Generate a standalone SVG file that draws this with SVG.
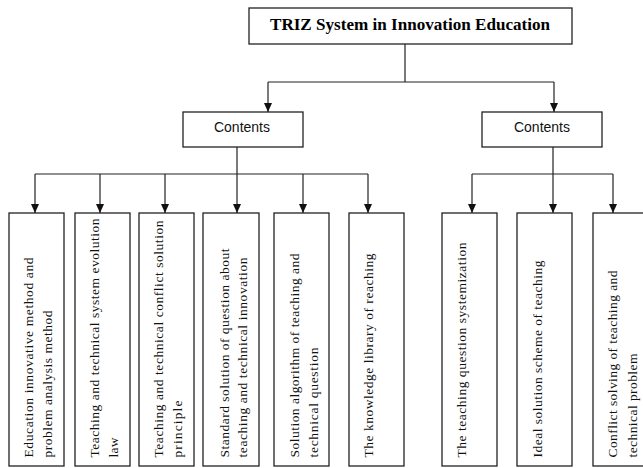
<svg xmlns="http://www.w3.org/2000/svg" width="643" height="468" viewBox="0 0 643 468">
<style>
.box{fill:#fff;stroke:#222;stroke-width:1.3}
.ln{fill:none;stroke:#222;stroke-width:1.2}
.title{font-family:"Liberation Serif","Times New Roman",serif;font-weight:bold;font-size:16px;fill:#000}
.ct{font-family:"Liberation Sans",Arial,sans-serif;font-size:14px;fill:#111}
.vt{font-family:"Liberation Serif","Times New Roman",serif;font-size:13.5px;fill:#111}
</style>
<defs>
<marker id="ah" markerWidth="9" markerHeight="8" refX="9" refY="4" orient="auto" markerUnits="userSpaceOnUse" viewBox="0 0 9 8">
<path d="M0,0 L9,4 L0,8 Z" fill="#111"/>
</marker>
</defs>
<rect width="643" height="468" fill="#fff"/>
<g id="connectors">
<path class="ln" d="M405,44 V82 M268,82 H554"/>
<path class="ln" d="M268,82 V112" marker-end="url(#ah)"/>
<path class="ln" d="M554,82 V112" marker-end="url(#ah)"/>
<path class="ln" d="M237,147 V174 M35,174 H368"/>
<path class="ln" d="M35,174 V213" marker-end="url(#ah)"/>
<path class="ln" d="M100,174 V213" marker-end="url(#ah)"/>
<path class="ln" d="M165,174 V213" marker-end="url(#ah)"/>
<path class="ln" d="M237,174 V213" marker-end="url(#ah)"/>
<path class="ln" d="M303,174 V213" marker-end="url(#ah)"/>
<path class="ln" d="M368,174 V213" marker-end="url(#ah)"/>
<path class="ln" d="M553,147 V174 M472,174 H613"/>
<path class="ln" d="M472,174 V213" marker-end="url(#ah)"/>
<path class="ln" d="M553,174 V213" marker-end="url(#ah)"/>
<path class="ln" d="M613,174 V213" marker-end="url(#ah)"/>
</g>
<g id="root">
<rect class="box" x="249" y="8" width="323" height="36"/>
<text class="title" x="410" y="30" text-anchor="middle" textLength="280" lengthAdjust="spacingAndGlyphs">TRIZ System in Innovation Education</text>
</g>
<g id="contents-left">
<rect class="box" x="183" y="112" width="120" height="35"/>
<text class="ct" x="242" y="132" text-anchor="middle">Contents</text>
</g>
<g id="contents-right">
<rect class="box" x="482" y="112" width="120" height="35"/>
<text class="ct" x="542" y="132" text-anchor="middle">Contents</text>
</g>
<g id="n1">
<rect class="box" x="9" y="213" width="55" height="253"/>
<text class="vt" transform="translate(33,457.5) rotate(-90)" textLength="200" lengthAdjust="spacing">Education innovative method and</text>
<text class="vt" transform="translate(52,457.5) rotate(-90)" textLength="147" lengthAdjust="spacing">problem analysis method</text>
</g>
<g id="n2">
<rect class="box" x="75" y="213" width="55" height="253"/>
<text class="vt" transform="translate(99,457.5) rotate(-90)" textLength="239" lengthAdjust="spacing">Teaching and technical system evolution</text>
<text class="vt" transform="translate(118,457.5) rotate(-90)" textLength="20" lengthAdjust="spacing">law</text>
</g>
<g id="n3">
<rect class="box" x="139" y="213" width="55" height="253"/>
<text class="vt" transform="translate(163,457.5) rotate(-90)" textLength="237" lengthAdjust="spacing">Teaching and technical conflict solution</text>
<text class="vt" transform="translate(182,457.5) rotate(-90)" textLength="57" lengthAdjust="spacing">principle</text>
</g>
<g id="n4">
<rect class="box" x="203" y="213" width="56" height="253"/>
<text class="vt" transform="translate(229,457.5) rotate(-90)" textLength="209" lengthAdjust="spacing">Standard solution of question about</text>
<text class="vt" transform="translate(247,457.5) rotate(-90)" textLength="200" lengthAdjust="spacing">teaching and technical innovation</text>
</g>
<g id="n5">
<rect class="box" x="274" y="213" width="55" height="253"/>
<text class="vt" transform="translate(299,457.5) rotate(-90)" textLength="204" lengthAdjust="spacing">Solution algorithm of teaching and</text>
<text class="vt" transform="translate(318,457.5) rotate(-90)" textLength="110" lengthAdjust="spacing">technical question</text>
</g>
<g id="n6">
<rect class="box" x="349" y="213" width="55" height="253"/>
<text class="vt" transform="translate(373,457.5) rotate(-90)" textLength="204" lengthAdjust="spacing">The knowledge library of reaching</text>
</g>
<g id="n7">
<rect class="box" x="442" y="213" width="55" height="253"/>
<text class="vt" transform="translate(466,457.5) rotate(-90)" textLength="215" lengthAdjust="spacing">The teaching question systemization</text>
</g>
<g id="n8">
<rect class="box" x="517" y="213" width="55" height="253"/>
<text class="vt" transform="translate(542,457.5) rotate(-90)" textLength="197" lengthAdjust="spacing">Ideal solution scheme of teaching</text>
</g>
<g id="n9">
<rect class="box" x="593" y="213" width="55" height="253"/>
<text class="vt" transform="translate(617,457.5) rotate(-90)" textLength="187" lengthAdjust="spacing">Conflict solving of teaching and</text>
<text class="vt" transform="translate(637,457.5) rotate(-90)" textLength="104" lengthAdjust="spacing">technical problem</text>
</g>
</svg>
